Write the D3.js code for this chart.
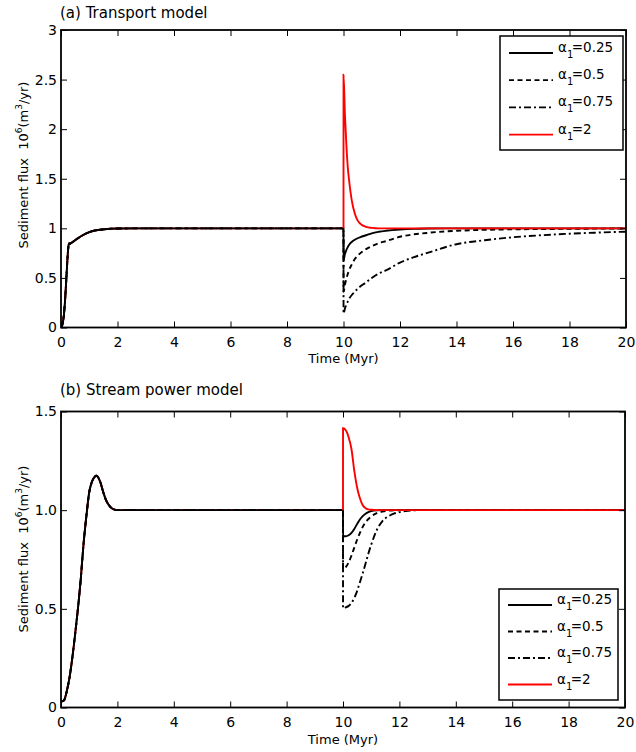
<!DOCTYPE html>
<html>
<head>
<meta charset="utf-8">
<script src="https://cdn.jsdelivr.net/npm/d3@7/dist/d3.min.js"></script>
<style>
  html, body { margin: 0; padding: 0; background: #fff; }
  svg { display: block; font-family: "DejaVu Sans", sans-serif; }
</style>
</head>
<body>
<svg id="chart" width="636" height="752"></svg>
<script>
// ---------------- DATA ----------------
const legendLabels = ["0.25", "0.5", "0.75", "2"];
const xTicks = [0, 2, 4, 6, 8, 10, 12, 14, 16, 18, 20];
const xTickLabels = ["0", "2", "4", "6", "8", "10", "12", "14", "16", "18", "20"];

// (a) Transport model
const yTicksA = [0, 0.5, 1, 1.5, 2, 2.5, 3];
const yTickLabelsA = ["0", "0.5", "1", "1.5", "2", "2.5", "3"];
const timeSpinA = [0, 0.05, 0.1, 0.15, 0.2, 0.25, 0.28, 0.32, 0.4, 0.5, 0.6, 0.8, 1.0, 1.2, 1.5, 2, 3, 10];
const fluxSpinA = [0, 0.03, 0.12, 0.3, 0.55, 0.78, 0.85, 0.845, 0.86, 0.88, 0.9, 0.935, 0.962, 0.978, 0.99, 0.998, 1, 1];
const timePostA = [10, 10.001, 10.05, 10.1, 10.15, 10.2, 10.3, 10.4, 10.5, 10.6, 10.8, 11, 11.25, 11.5, 12, 12.5, 13, 14, 15, 16, 17, 18, 19, 20];
const fluxA025 = [1, 0.68, 0.74, 0.78, 0.81, 0.835, 0.865, 0.885, 0.9, 0.912, 0.93, 0.95, 0.965, 0.975, 0.988, 0.995, 0.998, 1, 1, 1, 1, 1, 1, 1];
const fluxA05  = [1, 0.36, 0.43, 0.49, 0.54, 0.58, 0.64, 0.69, 0.725, 0.75, 0.79, 0.82, 0.85, 0.87, 0.915, 0.94, 0.955, 0.975, 0.985, 0.99, 0.993, 0.995, 0.997, 0.998];
const fluxA075 = [1, 0.14, 0.19, 0.23, 0.26, 0.29, 0.33, 0.36, 0.39, 0.415, 0.455, 0.5, 0.545, 0.575, 0.655, 0.71, 0.755, 0.84, 0.88, 0.91, 0.93, 0.946, 0.957, 0.966];
const fluxA2   = [1, 2.55, 2.15, 1.85, 1.62, 1.48, 1.27, 1.15, 1.08, 1.045, 1.015, 1.005, 1.0, 1.0, 1, 1, 1, 1, 1, 1, 1, 1, 1, 1];

// (b) Stream power model
const yTicksB = [0, 0.5, 1, 1.5];
const yTickLabelsB = ["0", "0.5", "1.0", "1.5"];
const timeSpinB = [0, 0.1, 0.2, 0.3, 0.4, 0.5, 0.6, 0.7, 0.8, 0.9, 1.0, 1.1, 1.2, 1.25, 1.3, 1.4, 1.5, 1.6, 1.7, 1.8, 1.9, 2.0, 3, 10];
const fluxSpinB = [0.03, 0.035, 0.08, 0.15, 0.25, 0.37, 0.5, 0.65, 0.83, 0.97, 1.09, 1.145, 1.17, 1.175, 1.17, 1.14, 1.09, 1.05, 1.025, 1.01, 1.003, 1.0, 1.0, 1.0];
const timePostB = [10, 10.001, 10.1, 10.2, 10.3, 10.4, 10.5, 10.6, 10.7, 10.8, 10.9, 11, 11.2, 11.4, 11.6, 11.8, 12, 12.3, 12.7, 13, 20];
const fluxB025 = [1, 0.868, 0.868, 0.873, 0.885, 0.905, 0.93, 0.953, 0.97, 0.982, 0.99, 0.995, 0.999, 1, 1, 1, 1, 1, 1, 1, 1];
const fluxB05  = [1, 0.705, 0.712, 0.735, 0.77, 0.81, 0.85, 0.885, 0.915, 0.94, 0.955, 0.968, 0.985, 0.993, 0.997, 0.999, 1, 1, 1, 1, 1];
const fluxB075 = [1, 0.503, 0.508, 0.515, 0.53, 0.555, 0.59, 0.635, 0.68, 0.73, 0.78, 0.825, 0.9, 0.945, 0.968, 0.982, 0.99, 0.997, 1, 1, 1];
const fluxB2   = [1, 1.415, 1.405, 1.37, 1.31, 1.2, 1.115, 1.06, 1.025, 1.01, 1.004, 1.002, 1, 1, 1, 1, 1, 1, 1, 1, 1];

// ---------------- STYLES ----------------
const seriesStyles = [
  { color: "#000", dash: null },
  { color: "#000", dash: "5,3.5" },
  { color: "#000", dash: "7,3,2,3" },
  { color: "#ff0000", dash: null }
];

const panels = [
  {
    title: "(a) Transport model",
    box: { left: 61, right: 626, top: 30, bottom: 327.5 },
    yMax: 3, yTicks: yTicksA, yTickLabels: yTickLabelsA,
    timeSpin: timeSpinA, fluxSpin: fluxSpinA, timePost: timePostA,
    post: [fluxA025, fluxA05, fluxA075, fluxA2],
    titleY: 18, xLabelY: 363, yLabelCenter: 165,
    legend: { x0: 500, x1: 623, y0: 36, y1: 150, lineY0: 53, step: 27.2, lx0: 509, lx1: 553, tx: 558 }
  },
  {
    title: "(b) Stream power model",
    box: { left: 61, right: 625, top: 411.5, bottom: 707.5 },
    yMax: 1.5, yTicks: yTicksB, yTickLabels: yTickLabelsB,
    timeSpin: timeSpinB, fluxSpin: fluxSpinB, timePost: timePostB,
    post: [fluxB025, fluxB05, fluxB075, fluxB2],
    titleY: 395, xLabelY: 744, yLabelCenter: 549,
    legend: { x0: 499, x1: 618, y0: 589, y1: 700, lineY0: 605, step: 26.5, lx0: 508, lx1: 552, tx: 557 }
  }
];

const svg = d3.select("#chart");
svg.append("rect").attr("width", 636).attr("height", 752).attr("fill", "#fff");

panels.forEach(p => {
  const b = p.box;
  const x = d3.scaleLinear().domain([0, 20]).range([b.left, b.right]);
  const y = d3.scaleLinear().domain([0, p.yMax]).range([b.bottom, b.top]);
  const g = svg.append("g");

  const line = d3.line().x(d => x(d[0])).y(d => y(d[1])).curve(d3.curveMonotoneX);
  const spin = p.timeSpin.map((t, i) => [t, p.fluxSpin[i]]);

  const clipId = "clip" + p.yMax;
  svg.append("clipPath").attr("id", clipId).append("rect")
    .attr("x", b.left).attr("y", b.top).attr("width", b.right - b.left).attr("height", b.bottom - b.top);
  const lines = g.append("g").attr("clip-path", `url(#${clipId})`);

  // red spin-up underneath
  lines.append("path").attr("d", line(spin)).attr("fill", "none")
    .attr("stroke", seriesStyles[3].color).attr("stroke-width", 1.9);
  // black series
  [0, 1, 2].forEach(k => {
    const data = spin.concat(p.timePost.slice(1).map((t, i) => [t, p.post[k][i + 1]]));
    lines.append("path").attr("d", line(data)).attr("fill", "none")
      .attr("stroke", seriesStyles[k].color).attr("stroke-width", 1.9)
      .attr("stroke-dasharray", seriesStyles[k].dash);
  });
  // red after the change, on top
  const redPost = p.timePost.map((t, i) => [t, p.post[3][i]]);
  lines.append("path").attr("d", line(redPost)).attr("fill", "none")
    .attr("stroke", seriesStyles[3].color).attr("stroke-width", 1.9);

  // axes (inward ticks on all sides)
  const fmtX = (d, i) => xTickLabels[i];
  const fmtY = (d, i) => p.yTickLabels[i];
  const axB = g.append("g").attr("transform", `translate(0,${b.bottom})`)
    .call(d3.axisBottom(x).tickValues(xTicks).tickFormat(fmtX).tickSize(-6).tickPadding(10));
  const axT = g.append("g").attr("transform", `translate(0,${b.top})`)
    .call(d3.axisTop(x).tickValues(xTicks).tickFormat("").tickSize(-6));
  const axL = g.append("g").attr("transform", `translate(${b.left},0)`)
    .call(d3.axisLeft(y).tickValues(p.yTicks).tickFormat(fmtY).tickSize(-6).tickPadding(4));
  const axR = g.append("g").attr("transform", `translate(${b.right},0)`)
    .call(d3.axisRight(y).tickValues(p.yTicks).tickFormat("").tickSize(-6));
  [axB, axT, axL, axR].forEach(a => {
    a.select(".domain").remove();
    a.selectAll(".tick line").attr("stroke", "#000").attr("stroke-width", 1);
    a.selectAll("text").attr("font-family", "DejaVu Sans").attr("font-size", 14).attr("fill", "#000");
  });

  g.append("rect").attr("x", b.left).attr("y", b.top)
    .attr("width", b.right - b.left).attr("height", b.bottom - b.top)
    .attr("fill", "none").attr("stroke", "#000").attr("stroke-width", 1.8);

  // title
  g.append("text").attr("x", 60).attr("y", p.titleY).attr("font-size", 15).text(p.title);

  // x label
  g.append("text").attr("x", (b.left + b.right) / 2).attr("y", p.xLabelY)
    .attr("text-anchor", "middle").attr("font-size", 13).text("Time (Myr)");

  // y label
  const yl = g.append("text").attr("transform", `translate(28,${p.yLabelCenter}) rotate(-90)`)
    .attr("text-anchor", "middle").attr("font-size", 13).style("white-space", "pre");
  yl.append("tspan").text("Sediment flux  10");
  yl.append("tspan").attr("font-size", 9).attr("dy", -6).text("6");
  yl.append("tspan").attr("dy", 6).text("(m");
  yl.append("tspan").attr("font-size", 9).attr("dy", -6).text("3");
  yl.append("tspan").attr("dy", 6).text("/yr)");

  // legend
  const L = p.legend;
  g.append("rect").attr("x", L.x0).attr("y", L.y0).attr("width", L.x1 - L.x0).attr("height", L.y1 - L.y0)
    .attr("fill", "#fff").attr("stroke", "#000").attr("stroke-width", 1.5);
  legendLabels.forEach((lab, i) => {
    const ly = L.lineY0 + i * L.step;
    g.append("line").attr("x1", L.lx0).attr("x2", L.lx1).attr("y1", ly).attr("y2", ly)
      .attr("stroke", seriesStyles[i].color).attr("stroke-width", 1.8)
      .attr("stroke-dasharray", seriesStyles[i].dash);
    const t = g.append("text").attr("x", L.tx).attr("y", ly - 1).attr("font-size", 13.5);
    t.append("tspan").text("α");
    t.append("tspan").attr("font-size", 10).attr("dy", 6).text("1");
    t.append("tspan").attr("dy", -6).attr("dx", -1.5).text("=" + lab);
  });
});
</script>
</body>
</html>
